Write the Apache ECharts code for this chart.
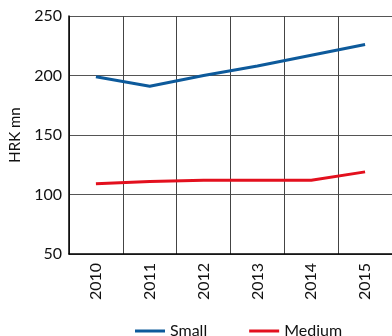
<!DOCTYPE html>
<html>
<head>
<meta charset="utf-8">
<script src="https://cdn.jsdelivr.net/npm/echarts@6/dist/echarts.min.js"></script>
<style>
  html, body { margin: 0; padding: 0; background: #fff; }
  #chart { width: 392px; height: 336px; }
</style>
</head>
<body>
<div id="chart"></div>
<script>
// Annual values, HRK millions
const years = ['2010', '2011', '2012', '2013', '2014', '2015'];
const small = [199, 191, 200, 208, 217, 226];
const medium = [109, 111, 112, 112, 112, 119];
const yTicks = { min: 50, max: 250, interval: 50 };

const FONT = 'Lato, "DejaVu Sans", sans-serif';

const chart = echarts.init(document.getElementById('chart'), null, { renderer: 'canvas' });
chart.setOption({
  animation: false,
  textStyle: { fontFamily: FONT, color: '#111' },
  grid: { left: 69, right: -3, top: 16, bottom: 82 },
  legend: {
    top: 318,
    left: 130,
    itemWidth: 30,
    itemHeight: 3,
    itemGap: 42,
    icon: 'rect',
    textStyle: { fontFamily: FONT, fontSize: 16, color: '#111' },
    data: ['Small', 'Medium']
  },
  xAxis: {
    type: 'category',
    data: years,
    boundaryGap: true,
    axisLine: { lineStyle: { color: '#000', width: 1.5 } },
    axisTick: { show: false },
    axisLabel: { rotate: 90, margin: 9, fontSize: 16, color: '#111', fontFamily: FONT },
    splitLine: { show: true, lineStyle: { color: '#444', width: 1 } }
  },
  yAxis: {
    type: 'value',
    min: yTicks.min,
    max: yTicks.max,
    interval: yTicks.interval,
    name: 'HRK mn',
    nameLocation: 'middle',
    nameGap: 46,
    nameTextStyle: { fontSize: 15, color: '#111', fontFamily: FONT },
    axisLine: { show: true, lineStyle: { color: '#000', width: 1.5 } },
    axisTick: { show: false },
    axisLabel: { margin: 7, fontSize: 16, color: '#111', fontFamily: FONT },
    splitLine: { show: true, lineStyle: { color: '#555', width: 1 } }
  },
  series: [
    {
      name: 'Small',
      type: 'line',
      data: small,
      symbol: 'none',
      smooth: false,
      lineStyle: { color: '#0d5a9b', width: 3 },
      itemStyle: { color: '#0d5a9b' }
    },
    {
      name: 'Medium',
      type: 'line',
      data: medium,
      symbol: 'none',
      smooth: false,
      lineStyle: { color: '#e3101e', width: 3 },
      itemStyle: { color: '#e3101e' }
    }
  ]
});
</script>
</body>
</html>
